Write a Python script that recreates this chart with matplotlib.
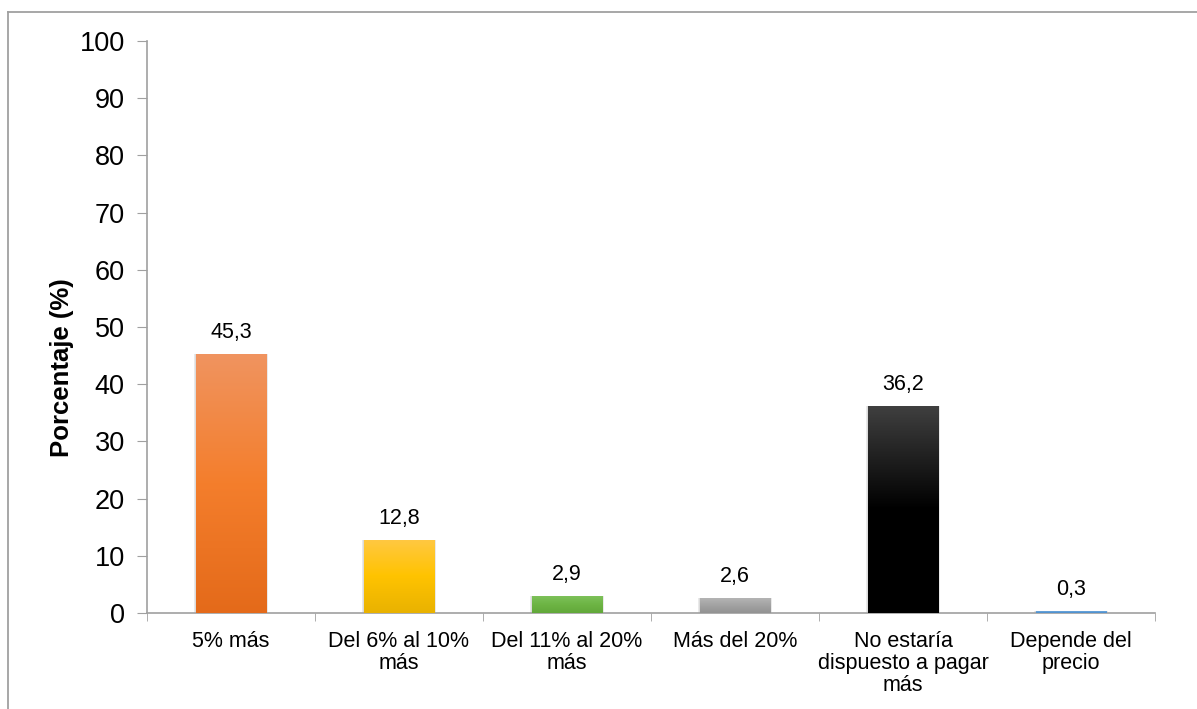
import numpy as np
import matplotlib
matplotlib.use('Agg')
import matplotlib.pyplot as plt
from matplotlib.colors import LinearSegmentedColormap
from matplotlib.lines import Line2D
from matplotlib.patches import Rectangle

plt.rcParams['font.family'] = ['Liberation Sans', 'DejaVu Sans']

categories = ['5% más', 'Del 6% al 10%\nmás', 'Del 11% al 20%\nmás', 'Más del 20%',
              'No estaría\ndispuesto a pagar\nmás', 'Depende del\nprecio']
values = [45.3, 12.8, 2.9, 2.6, 36.2, 0.3]
value_labels = ['45,3', '12,8', '2,9', '2,6', '36,2', '0,3']
# top, middle, bottom colours of each bar gradient
gradients = [
    ['#F09460', '#F47E2C', '#E46A1A'],
    ['#FFC843', '#FFC300', '#E9B200'],
    ['#7DC15A', '#6DB444', '#62A83A'],
    ['#B4B4B4', '#A2A2A2', '#929292'],
    ['#404040', '#000000', '#000000'],
    ['#6FA6DC', '#5B9BD5', '#4A8AC8'],
]

W, H = 1197, 709
fig = plt.figure(figsize=(W / 100, H / 100), dpi=100)
ax = fig.add_axes([147 / W, 1 - 613 / H, (1155 - 147) / W, (613 - 41) / H])

x = np.arange(len(values))
bars = ax.bar(x, values, width=0.42, color='none', zorder=3)

for b, cols in zip(bars, gradients):
    x0, y0 = b.get_x(), b.get_y()
    w, h = b.get_width(), b.get_height()
    # soft shadow
    for k, a in [(0.03, 0.06), (0.02, 0.08), (0.01, 0.10)]:
        ax.add_patch(Rectangle((x0 - k * 0.4, y0 - k * 8), w + k * 0.8, h + k * 8,
                               facecolor='#606060', edgecolor='none', alpha=a, zorder=2))
    cmap = LinearSegmentedColormap.from_list('g', cols[::-1])
    grad = np.linspace(0, 1, 256).reshape(-1, 1)
    im = ax.imshow(grad, cmap=cmap, aspect='auto', origin='lower',
                   extent=[x0, x0 + w, y0, y0 + h], zorder=3)
    im.set_clip_path(b)

for xi, v, lab in zip(x, values, value_labels):
    ax.annotate(lab, (xi, v), xytext=(0, 8), textcoords='offset points',
                ha='center', va='bottom', fontsize=15.5, color='#000000')

ax.set_xlim(-0.5, len(values) - 0.5)
ax.set_ylim(0, 100)
ax.set_yticks(np.arange(0, 101, 10))
ax.set_xticks(x)
ax.set_xticklabels(categories, fontsize=15.5, linespacing=1.05)
ax.set_xticks(np.arange(-0.5, len(values)), minor=True)
ax.tick_params(axis='x', which='major', length=0, pad=13)
ax.tick_params(axis='x', which='minor', length=6, color='#A0A0A0', direction='out')
ax.tick_params(axis='y', labelsize=19.5, length=7, color='#A0A0A0', pad=9)

for s in ['top', 'right']:
    ax.spines[s].set_visible(False)
for s in ['left', 'bottom']:
    ax.spines[s].set_color('#A0A0A0')
    ax.spines[s].set_linewidth(1.2)

fig.text(62 / W, 1 - 368 / H, 'Porcentaje (%)', rotation=90, ha='center', va='center',
         fontsize=18.5, fontweight='bold')

# outer frame (top and left edges only)
fig.add_artist(Line2D([8 / W, 1], [1 - 12 / H, 1 - 12 / H], color='#A0A0A0', lw=1.3,
                      transform=fig.transFigure))
fig.add_artist(Line2D([8 / W, 8 / W], [0, 1 - 12 / H], color='#A0A0A0', lw=1.3,
                      transform=fig.transFigure))

fig.savefig('out.png', dpi=100)
